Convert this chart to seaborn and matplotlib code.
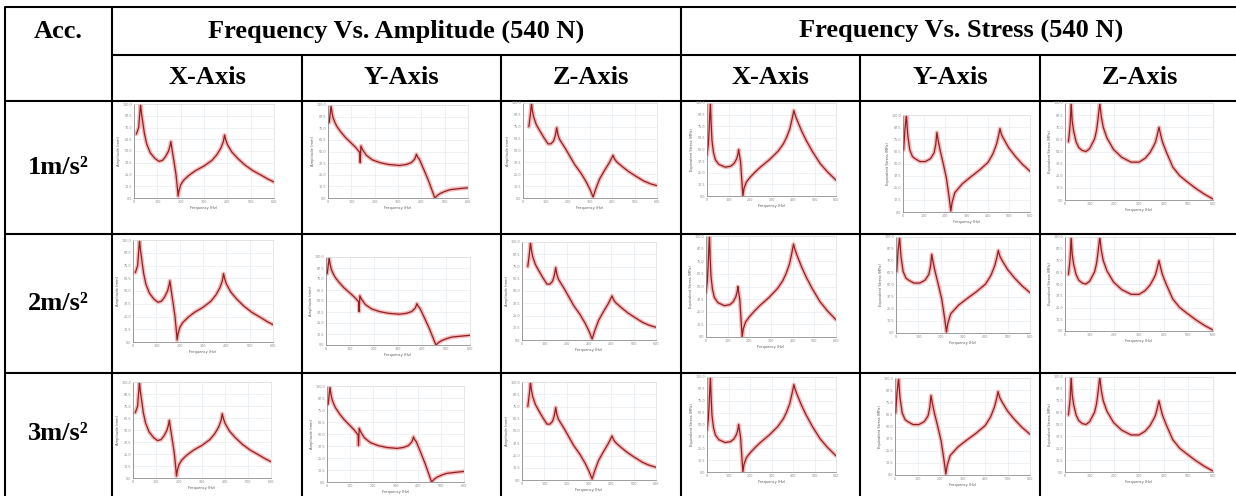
import matplotlib
matplotlib.use("Agg")
import matplotlib.pyplot as plt
import seaborn as sns
import pandas as pd

# --- table text ---
group_titles = ["Frequency Vs. Amplitude (540 N)", "Frequency Vs. Stress (540 N)"]
axis_names = ["X-Axis", "Y-Axis", "Z-Axis", "X-Axis", "Y-Axis", "Z-Axis"]
acc_labels = ["1m/s²", "2m/s²", "3m/s²"]

# --- curves (frequency in Hz, relative response level) ---
amp_x_freq = [10, 20, 28, 32, 38, 45, 55, 70, 90, 107, 122, 135, 148, 155, 158, 164, 172, 180, 187, 189,
              193, 200, 213, 235, 263, 300, 334, 355, 372, 383, 388, 393, 400, 419, 445, 476, 510, 547, 575, 600]
amp_x_level = [68, 75, 100, 90, 80, 68, 57, 48, 42, 39, 40, 44, 50, 56, 60, 50, 38, 25, 8, 2,
               8, 14, 19, 24, 29, 34, 40, 46, 53, 60, 67, 62, 57, 49, 42, 35, 29, 24, 20, 17]

amp_y_freq = [5, 10, 13, 17, 22, 30, 38, 55, 75, 100, 120, 136, 138, 141, 148, 164, 190, 223, 260, 307,
              335, 357, 372, 379, 384, 391, 410, 430, 458, 470, 482, 500, 524, 560, 600]
amp_y_level = [81, 92, 99, 92, 86, 81, 77, 71, 65, 59, 54, 49, 38, 56, 52, 46, 41, 38, 36, 35,
               36, 38, 42, 47, 44, 42, 31, 19, 0, 3, 5, 7, 9, 10, 11]

amp_z_freq = [26, 33, 38, 42, 48, 60, 77, 95, 112, 125, 137, 145, 151, 156, 163, 190, 232, 260, 283, 300,
              314, 325, 343, 365, 386, 397, 403, 410, 420, 445, 472, 505, 540, 570, 600]
amp_z_level = [75, 88, 100, 92, 85, 77, 70, 63, 57, 57, 60, 66, 74, 67, 62, 52, 35, 26, 17, 9,
               1, 9, 20, 29, 37, 42, 45, 41, 38, 33, 28, 23, 18, 15, 13]

stress_x_freq = [0, 6, 10, 13, 16, 19, 23, 30, 39, 55, 85, 110, 126, 138, 145, 147, 151, 156, 161, 167,
                 172, 183, 200, 225, 248, 290, 330, 355, 370, 385, 396, 404, 410, 420, 440, 461, 490, 526, 560, 600]
stress_x_level = [44, 55, 71, 88, 100, 80, 60, 47, 39, 34, 31, 32, 35, 40, 46, 50, 44, 37, 20, 0,
                  8, 15, 20, 26, 31, 39, 48, 56, 63, 72, 83, 92, 87, 81, 70, 60, 48, 35, 26, 17]

stress_y_freq = [3, 9, 16, 22, 32, 45, 57, 80, 106, 130, 147, 155, 160, 166, 175, 190, 205, 218, 226, 232,
                 245, 280, 319, 360, 401, 425, 442, 452, 458, 465, 474, 500, 532, 565, 600]
stress_y_level = [64, 85, 100, 80, 64, 57, 55, 52, 52, 55, 61, 70, 82, 74, 64, 50, 35, 15, 1, 10,
                  20, 29, 36, 43, 51, 60, 70, 79, 86, 80, 76, 66, 57, 49, 42]

stress_z_freq = [14, 18, 21, 25, 29, 35, 45, 56, 70, 85, 100, 120, 128, 134, 141, 147, 155, 170, 197, 230,
                 268, 300, 325, 345, 360, 367, 374, 381, 388, 395, 410, 437, 465, 494, 530, 565, 600]
stress_z_level = [60, 70, 78, 100, 82, 71, 60, 54, 51, 50, 53, 63, 72, 84, 100, 86, 75, 64, 52, 44,
                  39, 39, 43, 49, 56, 60, 67, 75, 67, 60, 50, 34, 25, 19, 12, 6, 1]

curves = [
    (amp_x_freq, amp_x_level, "Amplitude (mm)"),
    (amp_y_freq, amp_y_level, "Amplitude (mm)"),
    (amp_z_freq, amp_z_level, "Amplitude (mm)"),
    (stress_x_freq, stress_x_level, "Equivalent Stress (MPa)"),
    (stress_y_freq, stress_y_level, "Equivalent Stress (MPa)"),
    (stress_z_freq, stress_z_level, "Equivalent Stress (MPa)"),
]

W, H = 1236, 496

# thumbnail plot areas (left, top, right, bottom) in pixels, one row per acceleration
thumb_boxes = [
    [(134, 104, 274, 198), (328, 105, 468, 198), (523, 103, 657, 198),
     (707, 103, 836, 196), (903, 115, 1030, 212), (1065, 103, 1213, 200)],
    [(133, 240, 273, 342), (326, 257, 470, 345), (522, 242, 656, 340),
     (706, 236, 836, 337), (896, 237, 1030, 333), (1065, 237, 1213, 331)],
    [(133, 382, 271, 478), (327, 386, 464, 482), (522, 382, 656, 480),
     (707, 377, 836, 472), (895, 378, 1030, 475), (1065, 377, 1213, 472)],
]

sns.set_theme(style="white")
plt.rcParams["font.family"] = ["DejaVu Sans"]

fig = plt.figure(figsize=(W / 100, H / 100), dpi=100)
fig.patch.set_facecolor("white")

# --- table frame drawn in pixel coordinates ---
tab = fig.add_axes([0, 0, 1, 1])
tab.set_xlim(0, W)
tab.set_ylim(H, 0)
tab.axis("off")

lw = 1.5
for y in [7, 101, 234, 373]:
    tab.plot([5, W], [y, y], color="black", lw=lw, solid_capstyle="butt")
tab.plot([112, W], [55, 55], color="black", lw=lw)
for x in [5, 112, 681]:
    tab.plot([x, x], [7, H], color="black", lw=lw)
for x in [302, 501, 860, 1040]:
    tab.plot([x, x], [55, H], color="black", lw=lw)

serif = dict(family="Liberation Serif", weight="bold", color="black", size=19,
             ha="center", va="center")
tab.text(58, 31, "Acc.", **serif)
tab.text(396, 31, group_titles[0], **serif)
tab.text(961, 31, group_titles[1], **serif)
sub_centers = [207, 401, 591, 770, 950, 1140]
for cx, name in zip(sub_centers, axis_names):
    tab.text(cx, 78, name, **serif)
for cy, lab in zip([168, 303, 434], acc_labels):
    tab.text(58, cy, lab, **serif)

# --- thumbnails ---
for r, row in enumerate(thumb_boxes):
    for c, (l, t, rr, b) in enumerate(row):
        freq, level, ylab = curves[c]
        ax = fig.add_axes([l / W, 1 - b / H, (rr - l) / W, (b - t) / H])
        ax.set_facecolor("white")
        df = pd.DataFrame({"Frequency (Hz)": freq, "level": level})
        sns.lineplot(x="Frequency (Hz)", y="level", data=df, ax=ax, sort=False,
                     estimator=None, color="#f39a9a", lw=3.0, alpha=0.7)
        sns.lineplot(x="Frequency (Hz)", y="level", data=df, ax=ax, sort=False,
                     estimator=None, color="#8e2024", lw=0.9)
        ax.set_xlim(0, 600)
        ax.set_ylim(0, 100)
        ax.set_xticks(range(0, 601, 100))
        ax.set_yticks([0, 12.5, 25, 37.5, 50, 62.5, 75, 87.5, 100])
        ax.grid(True, color="#e4e8ee", lw=0.4)
        ax.tick_params(labelsize=2.4, colors="#8a8a8a", length=1, width=0.3, pad=0.6)
        ax.set_xlabel("Frequency (Hz)", fontsize=2.6, color="#555555", labelpad=1)
        ax.set_ylabel(ylab, fontsize=2.6, color="#555555", labelpad=1)
        for side, sp in ax.spines.items():
            sp.set_linewidth(0.5)
            sp.set_color("#777777" if side in ("left", "bottom") else "#dddddd")

fig.savefig("out.png", dpi=100, facecolor="white")
